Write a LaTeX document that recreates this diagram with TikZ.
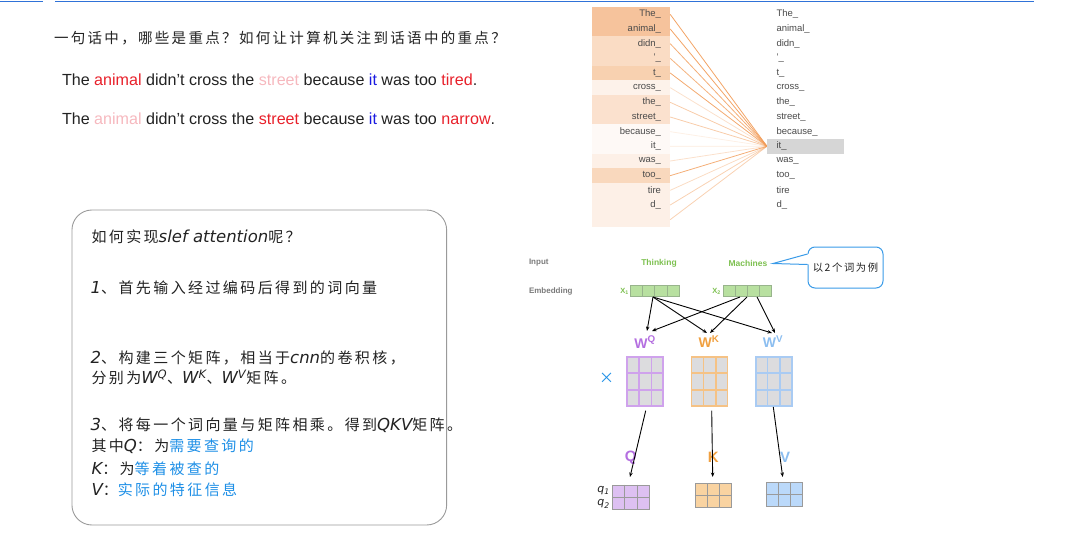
\documentclass[tikz,border=0pt]{standalone}
\usepackage{fontspec}
\usetikzlibrary{calc,arrows.meta}
\newfontfamily\arial{Liberation Sans}
\newfontfamily\cjk{Noto Sans CJK SC}[LetterSpace=16]
\newfontfamily\cjkn{Noto Sans CJK SC}
\newfontfamily\hwf{DejaVu Sans}[Scale=1.1]
\newcommand\hw[1]{{\hwf\itshape #1}}
\definecolor{tline}{HTML}{2F72D8}
\definecolor{ink}{HTML}{222222}
\definecolor{redw}{HTML}{E8202A}
\definecolor{pinkw}{HTML}{F6B8BE}
\definecolor{bluew}{HTML}{1A1AE0}
\definecolor{wordc}{HTML}{4A4A4A}
\definecolor{ra}{HTML}{F6C39C}
\definecolor{rb}{HTML}{FADCC4}
\definecolor{rt}{HTML}{F8D1B0}
\definecolor{rc}{HTML}{FDF2EA}
\definecolor{rm}{HTML}{FBE1CE}
\definecolor{rd}{HTML}{FEF9F6}
\definecolor{re}{HTML}{FDF0E7}
\definecolor{rk}{HTML}{F9D8BD}
\definecolor{attc}{HTML}{F19A55}
\definecolor{hlc}{HTML}{D6D6D6}
\definecolor{labg}{HTML}{7A7A7A}
\definecolor{grn}{HTML}{7DC050}
\definecolor{efill}{HTML}{B8E0A0}
\definecolor{eline}{HTML}{98B48C}
\definecolor{purp}{HTML}{B46FE0}
\definecolor{oran}{HTML}{F0A040}
\definecolor{lblu}{HTML}{8CBEF0}
\definecolor{pgrid}{HTML}{CFA2EC}
\definecolor{ogrid}{HTML}{F5C285}
\definecolor{bgrid}{HTML}{A9CBF3}
\definecolor{gcell}{HTML}{DCDCDE}
\definecolor{pout}{HTML}{DDC0F2}
\definecolor{oout}{HTML}{F9D3A1}
\definecolor{bout}{HTML}{BBD9FA}
\definecolor{oline}{HTML}{9A9A9A}
\definecolor{hlblue}{HTML}{1E8FE6}
\definecolor{callb}{HTML}{3A9BE8}
\definecolor{boxg}{HTML}{9A9A9A}
\tikzset{
 txt/.style={inner sep=0pt, outer sep=0pt, text=ink},
 word/.style={txt, font=\arial\fontsize{9.5}{11}\selectfont, text=wordc},
 sent/.style={txt, font=\arial\fontsize{16.1}{19}\selectfont, anchor=base west},
 boxtxt/.style={txt, font=\cjk\fontsize{15}{18}\selectfont, anchor=west},
 rowbox/.style={minimum width=78pt, minimum height=14.67pt, inner sep=0pt, draw=none},
 attl/.style={draw=attc, line width=0.8pt},
 lab/.style={txt, font=\arial\bfseries\fontsize{8}{10}\selectfont, text=labg, anchor=west},
 gword/.style={txt, font=\arial\bfseries\fontsize{8.5}{10}\selectfont, text=grn},
 emb/.style={draw=eline, fill=efill, line width=0.8pt, minimum width=48.3pt, minimum height=10.3pt, inner sep=0pt},
 arr/.style={-{Stealth[length=4.5pt,width=3.5pt]}, line width=0.9pt, black},
 wlab/.style={txt, font=\arial\bfseries\fontsize{14}{16}\selectfont},
 wmat/.style={fill=gcell, line width=1.5pt, minimum width=36pt, minimum height=49pt, inner sep=0pt},
 omat/.style={draw=oline, line width=0.9pt, minimum width=36.7pt, minimum height=24pt, inner sep=0pt},
 qkv/.style={txt, font=\arial\bfseries\fontsize{15}{16}\selectfont},
}
\begin{document}
\begin{tikzpicture}[x=1pt,y=-1pt]
\useasboundingbox (0,0) rectangle (1066,546);
% top lines
\draw[tline, line width=1.4pt] (0,1.3) -- (43,1.3);
\draw[tline, line width=1.4pt] (55,1.3) -- (1034,1.3);
% title and sentences
\node[txt, font=\cjk\fontsize{14.5}{17}\selectfont, anchor=west] (title) at (54,38.5) {一句话中，哪些是重点？如何让计算机关注到话语中的重点？};
\node[sent] (s1) at (62,85) {The \textcolor{redw}{animal} didn’t cross the \textcolor{pinkw}{street} because \textcolor{bluew}{it} was too \textcolor{redw}{tired}.};
\node[sent] (s2) at (62,124.5) {The \textcolor{pinkw}{animal} didn’t cross the \textcolor{redw}{street} because \textcolor{bluew}{it} was too \textcolor{redw}{narrow}.};
% attention visual
\coordinate (conv) at (767,146.3);
\foreach \i/\c/\w in {1/ra/The\_, 2/ra/animal\_, 3/rb/didn\_, 4/rb/’\_, 5/rt/t\_, 6/rc/cross\_, 7/rm/the\_, 8/rm/street\_, 9/rd/because\_, 10/rd/it\_, 11/re/was\_, 12/rk/too\_, 13/re/tire, 14/re/d\_, 15/re/{}}{
  \pgfmathsetmacro\yc{7+(\i-0.5)*14.667}
  \node[rowbox, fill=\c] (L\i) at (631,\yc) {};
  \node[word, anchor=east] (T\i) at (661,\yc) {\w};
}
\foreach \i/\op in {1/0.9, 2/0.9, 3/0.8, 4/0.75, 5/0.85, 6/0.3, 7/0.5, 8/0.5, 9/0.15, 10/0.2, 11/0.3, 12/0.8, 13/0.35, 14/0.45, 15/0.45}{
  \draw[attl, opacity=\op] (L\i.east) -- (conv);
}
\node[fill=hlc, minimum width=77pt, minimum height=14.67pt, inner sep=0pt] (hl) at (805.5,146.33) {};
\foreach \i/\w in {1/The\_, 2/animal\_, 3/didn\_, 4/’\_, 5/t\_, 6/cross\_, 7/the\_, 8/street\_, 9/because\_, 10/it\_, 11/was\_, 12/too\_, 13/tire, 14/d\_}{
  \pgfmathsetmacro\yc{7+(\i-0.5)*14.667}
  \node[word, anchor=west] (R\i) at (776.5,\yc) {\w};
}
% left rounded box
\node[draw=boxg, line width=0.9pt, rounded corners=20pt, minimum width=374.7pt, minimum height=315pt, inner sep=0pt] (box) at (259.3,367.5) {};
\node[boxtxt] (b1) at (91.5,236.7) {如何实现\hw{slef attention}呢？};
\node[boxtxt] (b2) at (90.7,287.7) {\hw{1}、首先输入经过编码后得到的词向量};
\node[boxtxt] (b3) at (90.7,358.3) {\hw{2}、构建三个矩阵，相当于\hw{cnn}的卷积核，};
\node[boxtxt] (b4) at (91.5,377.7) {分别为\hw{W\textsuperscript{Q}}、\hw{W\textsuperscript{K}}、\hw{W\textsuperscript{V}}矩阵。};
\node[boxtxt] (b5) at (90.7,425.7) {\hw{3}、将每一个词向量与矩阵相乘。得到\hw{QKV}矩阵。};
\node[boxtxt] (b6) at (91.5,446.7) {其中\hw{Q}：为\textcolor{hlblue}{需要查询的}};
\node[boxtxt] (b7) at (91.5,469) {\hw{K}：为\textcolor{hlblue}{等着被查的}};
\node[boxtxt] (b8) at (91.5,490) {\hw{V}：\textcolor{hlblue}{实际的特征信息}};
% lower-right figure
\node[lab] (inp) at (529,263) {Input};
\node[lab] (embl) at (529,291) {Embedding};
\node[gword] (think) at (659,263) {Thinking};
\node[gword] (mach) at (748,263) {Machines};
\node[txt, font=\arial\bfseries\fontsize{7.5}{9}\selectfont, text=grn] (x1l) at (624.5,291.3) {X\textsubscript{1}};
\node[txt, font=\arial\bfseries\fontsize{7.5}{9}\selectfont, text=grn] (x2l) at (716.5,291.3) {X\textsubscript{2}};
\node[emb] (e1) at (654.8,290.8) {};
\node[emb] (e2) at (747.5,290.8) {};
\foreach \e in {e1,e2}{
  \foreach \f in {0.25,0.5,0.75}{
    \draw[eline, line width=0.8pt] ($(\e.north west)!\f!(\e.north east)$) -- ($(\e.south west)!\f!(\e.south east)$);
  }
}
% callout
\node[draw=callb, line width=1pt, fill=white, rounded corners=7pt, minimum width=75pt, minimum height=41pt, inner sep=0pt, font=\cjk\fontsize{10.3}{12}\selectfont, text=ink] (call) at (845.5,267.5) {以2个词为例};
\coordinate (ptip) at (773,263.5);
\fill[white] (809,254) -- (ptip) -- (809,264.5) -- cycle;
\draw[callb, line width=1pt] (call.west |- 0,254) -- (ptip) -- (call.west |- 0,264.5);
% W labels
\node[wlab, text=purp] (wq) at (645,342) {W\textsuperscript{Q}};
\node[wlab, text=oran] (wk) at (709,342) {W\textsuperscript{K}};
\node[wlab, text=lblu] (wv) at (773,342) {W\textsuperscript{V}};
% arrows from embeddings
\coordinate (e1s) at (653,297);
\coordinate (e2a) at (740,297);
\coordinate (e2b) at (747,297);
\coordinate (e2c) at (757,297);
\coordinate (q1e) at (647,331);
\coordinate (k1e) at (707,333);
\coordinate (v1e) at (772,333);
\coordinate (q2e) at (652,331);
\coordinate (k2e) at (710,333);
\coordinate (v2e) at (775,333);
\draw[arr] (e1s) -- (q1e);
\draw[arr] (e1s) -- (k1e);
\draw[arr] (e1s) -- (v1e);
\draw[arr] (e2a) -- (q2e);
\draw[arr] (e2b) -- (k2e);
\draw[arr] (e2c) -- (v2e);
% weight matrices
\node[txt, font=\cjkn\fontsize{15}{15}\selectfont, text=hlblue] (times) at (606.5,378) {×};
\node[wmat, draw=pgrid] (mq) at (645,381.5) {};
\node[wmat, draw=ogrid] (mk) at (709.7,381.5) {};
\node[wmat, draw=bgrid] (mv) at (773.8,381.5) {};
\foreach \m/\c in {mq/pgrid, mk/ogrid, mv/bgrid}{
  \foreach \f in {0.3333,0.6667}{
    \draw[\c, line width=1.5pt] ($(\m.north west)!\f!(\m.north east)$) -- ($(\m.south west)!\f!(\m.south east)$);
    \draw[\c, line width=1.5pt] ($(\m.north west)!\f!(\m.south west)$) -- ($(\m.north east)!\f!(\m.south east)$);
  }
}
% outputs
\node[qkv, text=purp] (ql) at (630.7,457.3) {Q};
\node[qkv, text=oran] (kl) at (713.3,457.3) {K};
\node[qkv, text=lblu] (vl) at (785,457.3) {V};
\node[omat, fill=pout] (oq) at (630.7,497) {};
\node[omat, fill=oout] (ok) at (713.3,495.8) {};
\node[omat, fill=bout] (ov) at (784.3,494.8) {};
\foreach \m in {oq,ok,ov}{
  \foreach \f in {0.3333,0.6667}{
    \draw[oline, line width=0.9pt] ($(\m.north west)!\f!(\m.north east)$) -- ($(\m.south west)!\f!(\m.south east)$);
  }
  \draw[oline, line width=0.9pt] (\m.west) -- (\m.east);
}
\coordinate (qs) at (645.7,410.7);
\coordinate (ks) at (711.7,410.7);
\coordinate (vs) at (773.3,407);
\coordinate (qe) at (630,477);
\coordinate (ke) at (712.7,477);
\coordinate (ve) at (782.7,477);
\draw[arr] (qs) -- (qe);
\draw[arr] (ks) -- (ke);
\draw[arr] (vs) -- (ve);
\node[txt, font=\hwf\itshape\fontsize{10}{11}\selectfont] (q1) at (603.5,490.5) {q\textsubscript{1}};
\node[txt, font=\hwf\itshape\fontsize{10}{11}\selectfont] (q2) at (603.5,504) {q\textsubscript{2}};
\end{tikzpicture}
\end{document}
